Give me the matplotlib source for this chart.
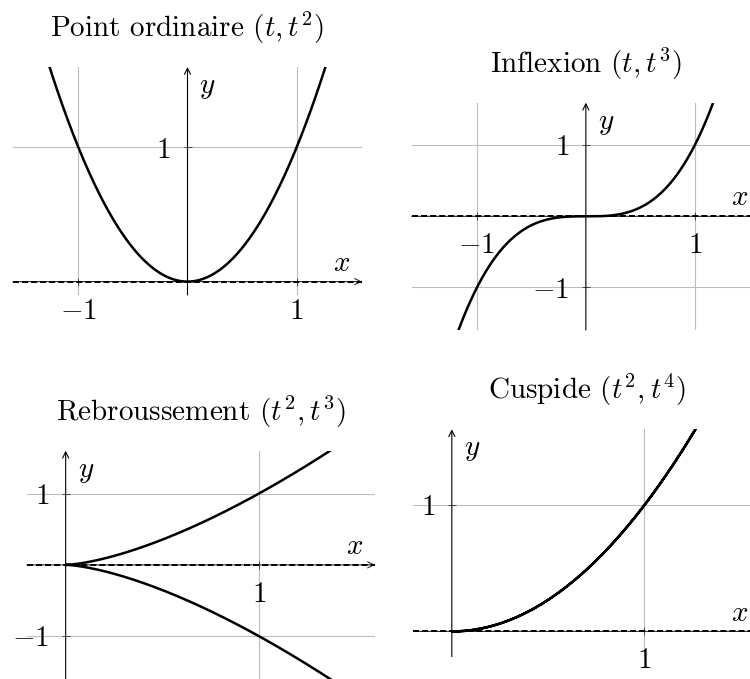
import numpy as np
import matplotlib
matplotlib.use("Agg")
from matplotlib import pyplot as plt

plt.rcParams["font.family"] = "serif"
plt.rcParams["font.serif"] = ["cmr10"]
plt.rcParams["mathtext.fontset"] = "cm"
plt.rcParams["axes.unicode_minus"] = False
plt.rcParams["axes.formatter.use_mathtext"] = True

# the four local behaviours of a parametric curve (t^p, t^q) at t = 0
titles = ["Point ordinaire $(t,t^2)$", "Inflexion $(t,t^3)$",
          "Rebroussement $(t^2,t^3)$", "Cuspide $(t^2,t^4)$"]
x_power = [1, 1, 2, 2]
y_power = [2, 3, 3, 4]
t_range = [1.3, 1.2, 1.2, 1.15]

xlims = [(-1.6, 1.6), (-1.6, 1.6), (-0.2, 1.6), (-0.2, 1.6)]
ylims = [(-0.1, 1.6), (-1.6, 1.6), (-1.6, 1.6), (-0.2, 1.6)]
xticks = [[-1, 1], [-1, 1], [1], [1]]
yticks = [[1], [-1, 1], [-1, 1], [1]]

# axes boxes in pixels: left, top, right, bottom
W, H = 750, 679
boxes = [(13, 67, 362, 295), (411.7, 102.7, 760, 330),
         (27, 450.7, 375, 679), (413.3, 429.3, 760, 656.7)]

fig = plt.figure(figsize=(W / 100, H / 100), dpi=100)

def lab(v):
    return "$%d$" % v

for i in range(4):
    l, t, r, b = boxes[i]
    ax = fig.add_axes([l / W, (H - b) / H, (r - l) / W, (b - t) / H])
    ax.set_xlim(*xlims[i])
    ax.set_ylim(*ylims[i])

    for s in ["top", "right"]:
        ax.spines[s].set_visible(False)
    ax.spines["bottom"].set_position(("data", 0))
    ax.spines["left"].set_position(("data", 0))
    ax.spines["bottom"].set_color("none")
    ax.spines["left"].set_color("none")

    ax.set_xticks(xticks[i])
    ax.set_xticklabels([lab(v) for v in xticks[i]])
    ax.set_yticks(yticks[i])
    ax.set_yticklabels([lab(v) for v in yticks[i]])
    ax.tick_params(axis="both", direction="inout", length=6, width=0.7,
                   color="#444444", labelsize=21)
    ax.tick_params(axis="x", pad=9)
    ax.tick_params(axis="y", pad=9)
    ax.grid(True, color="#bdbdbd", linewidth=0.8)

    x0, x1 = xlims[i]
    y0, y1 = ylims[i]
    # axes with arrow heads
    ax.annotate("", xy=(x1, 0), xytext=(x0, 0), annotation_clip=False,
                arrowprops=dict(arrowstyle="->", color="#333333", lw=0.8,
                                shrinkA=0, shrinkB=0, mutation_scale=11))
    ax.annotate("", xy=(0, y1), xytext=(0, y0), annotation_clip=False,
                arrowprops=dict(arrowstyle="->", color="black", lw=0.8,
                                shrinkA=0, shrinkB=0, mutation_scale=11))
    # tangent at the origin
    ax.axhline(0, color="black", lw=1.4, linestyle=(0, (3.1, 1.55)), zorder=3)

    tt = np.linspace(-t_range[i], t_range[i], 600)
    ax.plot(tt ** x_power[i], tt ** y_power[i], color="black", lw=1.8, zorder=4)

    ax.annotate("$x$", xy=(x1, 0), xytext=(-14.5, 13), textcoords="offset points",
                ha="center", va="center", fontsize=21, annotation_clip=False)
    ax.annotate("$y$", xy=(0, y1), xytext=(14.5, -15), textcoords="offset points",
                ha="center", va="center", fontsize=21, annotation_clip=False)
    ax.annotate(titles[i], xy=(0.5, 1), xycoords="axes fraction",
                xytext=(0, 28), textcoords="offset points",
                ha="center", va="center", fontsize=21)

fig.savefig("out.png", dpi=100)
